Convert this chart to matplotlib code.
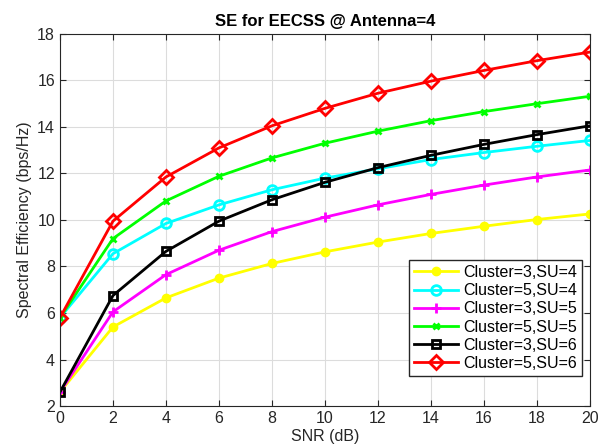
import matplotlib
matplotlib.use("Agg")
import matplotlib.pyplot as plt

snr = [0, 2, 4, 6, 8, 10, 12, 14, 16, 18, 20]

c3_su4 = [2.6, 5.4, 6.65, 7.5, 8.13, 8.63, 9.05, 9.42, 9.73, 10.02, 10.26]
c5_su4 = [5.8, 8.55, 9.85, 10.65, 11.3, 11.8, 12.2, 12.6, 12.9, 13.17, 13.42]
c3_su5 = [2.6, 6.05, 7.65, 8.7, 9.5, 10.12, 10.65, 11.1, 11.5, 11.85, 12.15]
c5_su5 = [5.8, 9.2, 10.82, 11.88, 12.67, 13.3, 13.82, 14.27, 14.66, 15.0, 15.32]
c3_su6 = [2.6, 6.75, 8.65, 9.95, 10.87, 11.62, 12.25, 12.78, 13.25, 13.67, 14.05]
c5_su6 = [5.8, 9.95, 11.85, 13.1, 14.05, 14.8, 15.45, 15.97, 16.43, 16.85, 17.22]

labels = ["Cluster=3,SU=4", "Cluster=5,SU=4", "Cluster=3,SU=5",
          "Cluster=5,SU=5", "Cluster=3,SU=6", "Cluster=5,SU=6"]

plt.rcParams['font.family'] = ['Liberation Sans', 'DejaVu Sans']

fig = plt.figure(figsize=(5.98, 4.48), dpi=100)
ax = fig.add_axes([0.1003, 0.0937, 0.886, 0.8305])

series = [c3_su4, c5_su4, c3_su5, c5_su5, c3_su6, c5_su6]
styles = [
    dict(color='#ffff00', marker='o', markersize=6, markerfacecolor='#ffff00'),
    dict(color='#00ffff', marker='o', markersize=7, markerfacecolor='none', markeredgewidth=2),
    dict(color='#ff00ff', marker='+', markersize=7, markeredgewidth=2),
    dict(color='#00ff00', marker='x', markersize=5, markeredgewidth=2),
    dict(color='black', marker='s', markersize=6, markerfacecolor='none', markeredgewidth=2),
    dict(color='#ff0000', marker='D', markersize=7, markerfacecolor='none', markeredgewidth=2),
]
for vals, lab, st in zip(series, labels, styles):
    ax.plot(snr, vals, linewidth=2, label=lab, **st)

ax.set_xlim(0, 20)
ax.set_ylim(2, 18)
ax.set_xticks(range(0, 21, 2))
ax.set_yticks(range(2, 19, 2))
ax.grid(True, color='#dcdcdc', linewidth=0.8)
ax.set_axisbelow(True)
ax.tick_params(direction='in', top=True, right=True, labelsize=11.5, colors='#262626', length=4)
for sp in ax.spines.values():
    sp.set_color('#262626')

ax.set_title("SE for EECSS @ Antenna=4", fontsize=12, fontweight='bold')
ax.set_xlabel("SNR (dB)", fontsize=11.5, color='#262626', labelpad=2)
ax.set_ylabel("Spectral Efficiency (bps/Hz)", fontsize=11.5, color='#262626')

leg = ax.legend(loc='lower right', bbox_to_anchor=(1.0, 0.06), fontsize=11.5,
                fancybox=False, framealpha=1, edgecolor='#262626',
                handlelength=2.8, borderpad=0.3, labelspacing=0.2, handletextpad=0.3)

fig.savefig("out.png", dpi=100)
